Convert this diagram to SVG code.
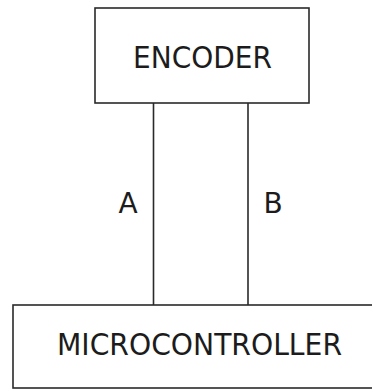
<svg xmlns="http://www.w3.org/2000/svg" width="372" height="390" viewBox="0 0 372 390">
<style>
.box{fill:#ffffff;stroke:#2a2a2a;stroke-width:1.6}
.wire{stroke:#2a2a2a;stroke-width:1.6;fill:none}
.t{font-family:"DejaVu Sans","Liberation Sans",sans-serif;fill:#1c1c1c}
</style>
<rect width="372" height="390" fill="#ffffff"/>
<g id="connectors">
<line class="wire" x1="153.5" y1="103" x2="153.5" y2="305"/>
<line class="wire" x1="248" y1="103" x2="248" y2="305"/>
</g>
<g id="encoder">
<rect class="box" x="95" y="8" width="214" height="95"/>
<text class="t" x="202.5" y="68" font-size="30" text-anchor="middle" textLength="139" lengthAdjust="spacingAndGlyphs">ENCODER</text>
</g>
<g id="microcontroller">
<rect class="box" x="13" y="305" width="372" height="83"/>
<text class="t" x="199.5" y="355" font-size="30" text-anchor="middle" textLength="285" lengthAdjust="spacingAndGlyphs">MICROCONTROLLER</text>
</g>
<g id="label-a">
<text class="t" x="128" y="213" font-size="28" text-anchor="middle">A</text>
</g>
<g id="label-b">
<text class="t" x="273" y="213" font-size="28" text-anchor="middle">B</text>
</g>
</svg>
